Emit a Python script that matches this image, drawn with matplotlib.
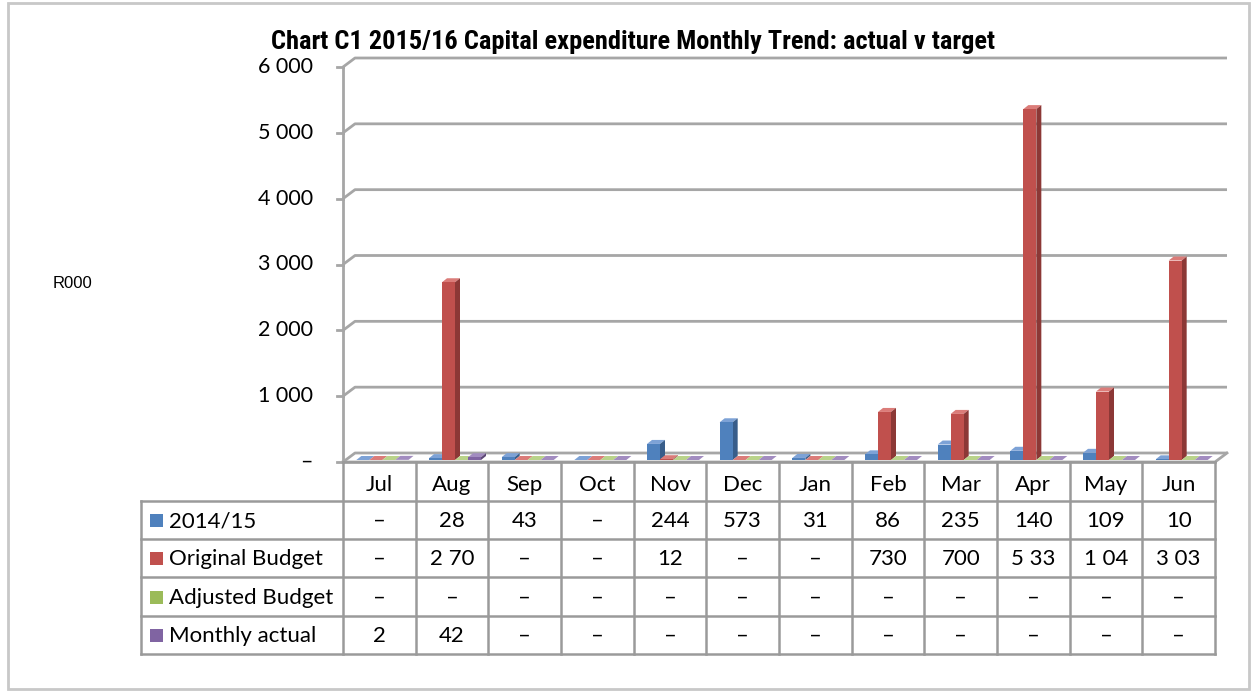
import matplotlib
matplotlib.use("Agg")
import matplotlib.pyplot as plt
import matplotlib.font_manager as fm
from matplotlib.patches import Polygon, Rectangle

# ---------------- data ----------------
months = ["Jul", "Aug", "Sep", "Oct", "Nov", "Dec", "Jan", "Feb", "Mar", "Apr", "May", "Jun"]
series_names = ["2014/15", "Original Budget", "Adjusted Budget", "Monthly actual"]
prior_year = [0, 28, 43, 0, 244, 573, 31, 86, 235, 140, 109, 10]
original_budget = [0, 2700, 0, 0, 12, 0, 0, 730, 700, 5330, 1040, 3030]
adjusted_budget = [0, 0, 0, 0, 0, 0, 0, 0, 0, 0, 0, 0]
monthly_actual = [2, 42, 0, 0, 0, 0, 0, 0, 0, 0, 0, 0]
# text shown in the data table (as printed in the source)
prior_year_txt = ["–", "28", "43", "–", "244", "573", "31", "86", "235", "140", "109", "10"]
original_budget_txt = ["–", "2 70", "–", "–", "12", "–", "–", "730", "700", "5 33", "1 04", "3 03"]
adjusted_budget_txt = ["–"] * 12
monthly_actual_txt = ["2", "42", "–", "–", "–", "–", "–", "–", "–", "–", "–", "–"]
y_ticks = [0, 1000, 2000, 3000, 4000, 5000, 6000]
y_tick_labels = ["–", "1 000", "2 000", "3 000", "4 000", "5 000", "6 000"]

series_values = [prior_year, original_budget, adjusted_budget, monthly_actual]
series_txt = [prior_year_txt, original_budget_txt, adjusted_budget_txt, monthly_actual_txt]
front_cols = ["#4F81BD", "#C0504D", "#9BBB59", "#8064A2"]
side_cols = ["#385D8A", "#8C3836", "#71893F", "#5C4776"]
top_cols = ["#7DA2D6", "#DB7C79", "#B9D38A", "#A28CC0"]

# ---------------- fonts ----------------
names = {f.name for f in fm.fontManager.ttflist}
def pick(*cands):
    for c in cands:
        if c in names:
            return c
    return "DejaVu Sans"
narrow = pick("Liberation Sans Narrow", "Arial Narrow", "Roboto Condensed", "Liberation Sans")
body = pick("Lato", "Open Sans", "DejaVu Sans")
arial = pick("Liberation Sans", "DejaVu Sans")

W, H = 1257, 691
fig = plt.figure(figsize=(W / 100, H / 100), dpi=100)

def fx(px):
    return px / W

def fy(py):
    return 1 - py / H

# main plot area (front plane)
L, R = 343, 1215
Y0, Y6 = 462, 67
ax = fig.add_axes([fx(L), fy(Y0), fx(R - L), (Y0 - Y6) / H])
ax.set_xlim(-0.5, 11.5)
ax.set_ylim(0, 6000)
ax.axis("off")

colw = (R - L) / 12.0
ppu_y = (Y0 - Y6) / 6000.0
def dx(px):
    return px / colw
def dy(px):
    return px / ppu_y

grid_c = "#A6A6A6"
ox, oy = dx(12), dy(9)
# back-wall gridlines with left-wall diagonal
for t in y_ticks:
    ax.plot([-0.5, -0.5 + ox, 11.5 + ox], [t, t + oy, t + oy], color=grid_c, lw=2.0,
            clip_on=False, solid_capstyle="butt", zorder=1)
    ax.plot([-0.5 - dx(6), -0.5], [t, t], color=grid_c, lw=2.0, clip_on=False, zorder=1)
# floor front edge and right edge, left axis
ax.plot([-0.5, 11.5, 11.5 + ox], [0, 0, oy], color=grid_c, lw=2.0, clip_on=False, zorder=1)
ax.plot([-0.5, -0.5], [0, 6000], color=grid_c, lw=2.0, clip_on=False, zorder=1)

# y tick labels
for t, lab in zip(y_ticks, y_tick_labels):
    ax.text(-0.5 - dx(30), t, lab, ha="right", va="center", fontsize=15.5,
            family=body, color="#000000", clip_on=False)

# 3-D style bars
bw = dx(13)
fdx, fdy = dx(3), dy(2)       # front face offset from floor front
ddx, ddy = dx(5), dy(4)       # bar depth
zord = 3
for i in range(12):
    for s in range(4):
        v = series_values[s][i]
        xc = i + (s - 1.5) * bw + fdx
        x0, x1 = xc - bw / 2, xc + bw / 2
        b = fdy
        ax.add_patch(Polygon([(x0, b + v), (x1, b + v), (x1 + ddx, b + v + ddy), (x0 + ddx, b + v + ddy)],
                             closed=True, facecolor=top_cols[s], edgecolor="none", zorder=zord, clip_on=False))
        if v > 0:
            ax.add_patch(Polygon([(x1, b), (x1 + ddx, b + ddy), (x1 + ddx, b + v + ddy), (x1, b + v)],
                                 closed=True, facecolor=side_cols[s], edgecolor="none", zorder=zord, clip_on=False))
            ax.bar(xc, v, width=bw, bottom=b, color=front_cols[s], edgecolor="none", zorder=zord + 1,
                   clip_on=False)

# title
fig.text(fx(633), fy(42), "Chart C1 2015/16 Capital expenditure Monthly Trend: actual v target",
         ha="center", va="center", fontsize=19, family=narrow, fontweight="bold")
# axis unit label
fig.text(fx(72), fy(284), "R000", ha="center", va="center", fontsize=12, family=arial)

# ---------------- data table ----------------
tab = fig.add_axes([0, 0, 1, 1], facecolor="none")
tab.set_xlim(0, W)
tab.set_ylim(H, 0)
tab.axis("off")
tc = "#9A9A9A"
row_lines = [462, 501, 539, 577, 616, 654]
TL = 141
col_edges = [L + k * colw for k in range(13)]
# horizontal lines
tab.plot([L, R], [row_lines[0], row_lines[0]], color=tc, lw=1.8, zorder=2)
for yl in row_lines[1:]:
    tab.plot([TL, R], [yl, yl], color=tc, lw=1.8)
# vertical lines
for xe in col_edges:
    tab.plot([xe, xe], [row_lines[0], row_lines[-1]], color=tc, lw=1.8)
tab.plot([TL, TL], [row_lines[1], row_lines[-1]], color=tc, lw=1.8)

hdr_y = (row_lines[0] + row_lines[1]) / 2 + 3
for i, m in enumerate(months):
    tab.text((col_edges[i] + col_edges[i + 1]) / 2, hdr_y, m, ha="center", va="center",
             fontsize=16, family=body)
for s in range(4):
    ry = (row_lines[s + 1] + row_lines[s + 2]) / 2 + 1
    tab.add_patch(Rectangle((150, ry - 7), 13, 13, facecolor=front_cols[s], edgecolor="none"))
    tab.text(169, ry, series_names[s], ha="left", va="center", fontsize=16, family=body)
    for i in range(12):
        tab.text((col_edges[i] + col_edges[i + 1]) / 2, ry, series_txt[s][i], ha="center",
                 va="center", fontsize=16, family=body)

# outer chart border
tab.add_patch(Rectangle((8, 3), 1241, 686, facecolor="none", edgecolor="#C8C8C8", lw=2))

fig.savefig("out.png", dpi=100)
